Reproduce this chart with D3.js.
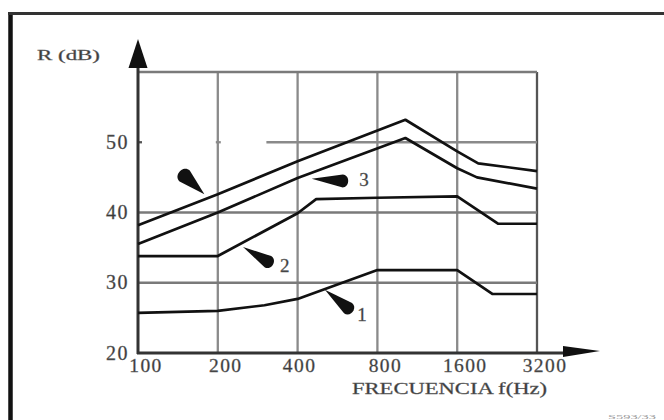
<!DOCTYPE html>
<html>
<head>
<meta charset="utf-8">
<script src="https://cdn.jsdelivr.net/npm/d3@7/dist/d3.min.js"></script>
<style>
  html, body { margin: 0; padding: 0; background: #fff; }
  svg { display: block; }
  text { font-family: "Liberation Serif", "DejaVu Serif", serif; fill: #3a3a3a; stroke: #666; stroke-width: 0.35px; }
</style>
</head>
<body>
<svg id="chart" width="664" height="420"></svg>
<script>
// ---- data ----
const xTicks = [100, 200, 400, 800, 1600, 3200];
const xTickLabels = ["100", "200", "400", "800", "1600", "3200"];
const yTicks = [20, 30, 40, 50];
const yTickLabels = ["20", "30", "40", "50"];

const curve1Freq = [100, 200, 300, 400, 800, 1600, 2170, 3200];
const curve1 = [25.7, 26.0, 26.8, 27.7, 31.8, 31.8, 28.4, 28.4];
const curve2Freq = [100, 200, 400, 470, 800, 1600, 2280, 3200];
const curve2 = [33.8, 33.8, 39.9, 41.9, 42.1, 42.3, 38.4, 38.4];
const curve3Freq = [100, 200, 400, 1020, 1600, 1900, 3200];
const curve3 = [35.5, 40.0, 44.9, 50.6, 46.3, 45.0, 43.4];
const curve4Freq = [100, 200, 400, 1020, 1600, 1920, 3200];
const curve4 = [38.2, 42.6, 47.3, 53.2, 48.7, 47.0, 45.9];

// pointer annotations: tip (freq, dB) -> tail (freq, dB), label
const pointerTipF = [178, 452, 249, 507];
const pointerTipV = [42.6, 44.8, 35.1, 29.0];
const pointerTailF = [150, 590, 309, 620];
const pointerTailV = [45.2, 44.5, 33.0, 26.4];
const pointerLabels = ["", "3", "2", "1"];
const labelF = [0, 712, 358, 700];
const labelV = [0, 43.8, 31.5, 24.6];

// ---- scales ----
const svg = d3.select("#chart");
const x = d3.scaleLog().base(2).domain([100, 3200]).range([138, 537]);
const y = d3.scaleLinear().domain([20, 60]).range([353, 72]);

// frame
svg.append("line").attr("x1", 10.5).attr("x2", 10.5).attr("y1", 12).attr("y2", 420)
  .attr("stroke", "#111").attr("stroke-width", 4.5);
svg.append("line").attr("x1", 8).attr("x2", 664).attr("y1", 13.5).attr("y2", 13.5)
  .attr("stroke", "#333").attr("stroke-width", 3);

// grid
const g = svg.append("g");
g.selectAll(".vg").data(xTicks.slice(1)).enter().append("line")
  .attr("x1", d => x(d)).attr("x2", d => x(d))
  .attr("y1", y(60)).attr("y2", y(20))
  .attr("stroke", (d, i) => i === xTicks.length - 2 ? "#555" : "#8a8a8a")
  .attr("stroke-width", 2.3);
const hGrid = [30, 40, 60];
g.selectAll(".hg").data(hGrid).enter().append("line")
  .attr("x1", x(100)).attr("x2", x(3200))
  .attr("y1", d => y(d)).attr("y2", d => y(d))
  .attr("stroke", "#7a7a7a").attr("stroke-width", 2.3);
// 50 dB gridline (partially faded in the original)
g.append("line").attr("x1", x(305)).attr("x2", x(3200))
  .attr("y1", y(50)).attr("y2", y(50))
  .attr("stroke", "#8a8a8a").attr("stroke-width", 2.3);
g.append("line").attr("x1", x(200) - 2).attr("x2", x(200) + 3)
  .attr("y1", y(50)).attr("y2", y(50))
  .attr("stroke", "#8a8a8a").attr("stroke-width", 2.3);
g.append("line").attr("x1", x(100)).attr("x2", x(100) + 4)
  .attr("y1", y(50)).attr("y2", y(50))
  .attr("stroke", "#555").attr("stroke-width", 2.3);

// axes
svg.append("line").attr("x1", x(100)).attr("x2", x(100)).attr("y1", y(20) + 1).attr("y2", 66)
  .attr("stroke", "#333").attr("stroke-width", 3);
svg.append("path").attr("d", `M${x(100)},39 L${x(100) + 9.5},68 L${x(100) - 9.5},68 Z`).attr("fill", "#111");
svg.append("line").attr("x1", x(100) - 1).attr("x2", 566).attr("y1", y(20)).attr("y2", y(20))
  .attr("stroke", "#333").attr("stroke-width", 3);
svg.append("path").attr("d", `M563,${y(20) - 7} L600,${y(20) - 2} L563,${y(20) + 4} Z`).attr("fill", "#111");

// tick labels
svg.selectAll(".xt").data(xTicks).enter().append("text")
  .attr("x", (d, i) => x(d) + (i === 2 ? 2 : 8)).attr("y", y(20) + 19)
  .attr("text-anchor", "middle").attr("font-size", 19.5)
  .attr("letter-spacing", 1.4)
  .text((d, i) => xTickLabels[i]);
svg.selectAll(".yt").data(yTicks).enter().append("text")
  .attr("x", 129).attr("y", d => y(d) + 6.5)
  .attr("text-anchor", "end").attr("font-size", 20)
  .attr("letter-spacing", 1.5)
  .text((d, i) => yTickLabels[i]);

// axis titles
svg.append("text").attr("x", 37).attr("y", 60).attr("font-size", 15)
  .attr("textLength", 63).attr("lengthAdjust", "spacingAndGlyphs").text("R (dB)");
svg.append("text").attr("x", 352).attr("y", 394).attr("font-size", 17)
  .attr("textLength", 195).attr("lengthAdjust", "spacingAndGlyphs").text("FRECUENCIA f(Hz)");

// tiny reference code bottom right
svg.append("text").attr("x", 608).attr("y", 419).attr("font-size", 6)
  .attr("textLength", 48).attr("lengthAdjust", "spacingAndGlyphs")
  .style("fill", "#999").style("stroke", "none").text("S593/33");

// curves
const line = d3.line().x(d => x(d[0])).y(d => y(d[1]));
const series = [
  [curve1Freq, curve1], [curve2Freq, curve2], [curve3Freq, curve3], [curve4Freq, curve4]
];
svg.selectAll(".curve").data(series).enter().append("path")
  .attr("d", s => line(s[0].map((f, i) => [f, s[1][i]])))
  .attr("fill", "none").attr("stroke", "#111").attr("stroke-width", 2.7)
  .attr("stroke-linejoin", "round");

// pointers (wedges)
pointerTipF.forEach((tf, i) => {
  const tx = x(tf), ty = y(pointerTipV[i]);
  const bx = x(pointerTailF[i]), by = y(pointerTailV[i]);
  const len = Math.hypot(bx - tx, by - ty);
  const dx = (bx - tx) / len, dy = (by - ty) / len;
  const px = -dy, py = dx, w = i === 0 ? 7.5 : 6.5;
  const p1 = [bx + px * w, by + py * w], p2 = [bx - px * w, by - py * w];
  const c1 = [p1[0] + dx * w * 1.2, p1[1] + dy * w * 1.2];
  const c2 = [p2[0] + dx * w * 1.2, p2[1] + dy * w * 1.2];
  svg.append("path")
    .attr("d", `M${tx},${ty} L${p1[0]},${p1[1]} C${c1[0]},${c1[1]} ${c2[0]},${c2[1]} ${p2[0]},${p2[1]} Z`)
    .attr("fill", "#111");
  if (pointerLabels[i]) {
    svg.append("text").attr("x", x(labelF[i])).attr("y", y(labelV[i]))
      .attr("font-size", 19).attr("text-anchor", "middle").text(pointerLabels[i]);
  }
});
</script>
</body>
</html>
